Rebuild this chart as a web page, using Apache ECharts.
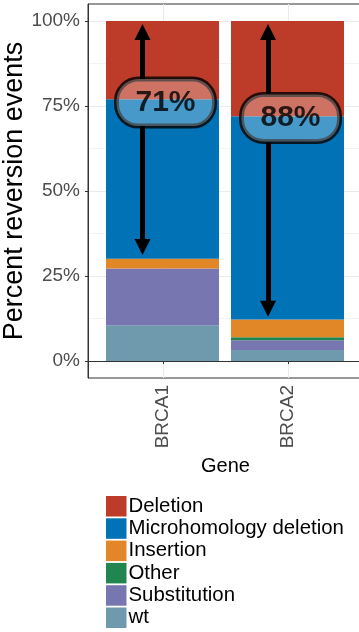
<!DOCTYPE html>
<html><head><meta charset="utf-8">
<script src="https://cdn.jsdelivr.net/npm/echarts@6/dist/echarts.min.js"></script>
<style>html,body{margin:0;padding:0;background:#fff}#c{width:359px;height:632px}</style>
</head><body><div id="c"></div>
<script>
// ---- data ----
const categories = ['BRCA1', 'BRCA2'];
const categoryPos = [1, 2];
const seriesNames = ['wt', 'Substitution', 'Other', 'Insertion', 'Microhomology deletion', 'Deletion'];
const wt = [10.5, 3.2];
const substitution = [16.7, 2.9];
const other = [0, 0.9];
const insertion = [2.9, 5.2];
const microhomology = [46.9, 59.8];
const deletion = [23.0, 28.0];
const seriesValues = [wt, substitution, other, insertion, microhomology, deletion];
const legendOrder = ['Deletion', 'Microhomology deletion', 'Insertion', 'Other', 'Substitution', 'wt'];
const yTicks = [0, 25, 50, 75, 100];
const yMinorTicks = [12.5, 37.5, 62.5, 87.5];
const annotText = ['71%', '88%'];
const annotX = [1.02, 2.02];
const annotY = [76.0, 71.5];
const annotHalf = [6.9, 7.2];
const arrowX = [0.836, 1.84];
const arrowTop = [99.1, 99.1];
const arrowBottom = [31.2, 13.0];

const colors = {
  'Deletion': '#BC3C29', 'Microhomology deletion': '#0072B5', 'Insertion': '#E18727',
  'Other': '#20854E', 'Substitution': '#7876B1', 'wt': '#6F99AD'
};
const FONT = '"Liberation Sans", Arial, Helvetica, sans-serif';
const PX_PER_PCT = 3.4;
const HEAD = 16;
const headPct = (HEAD / 2) / PX_PER_PCT;

const chart = echarts.init(document.getElementById('c'), null, {renderer: 'canvas'});

const barSeries = seriesNames.map((name, i) => ({
  name, type: 'bar', stack: 'total', barWidth: 113,
  xAxisIndex: 1, yAxisIndex: 2,
  itemStyle: {color: colors[name]},
  emphasis: {disabled: true},
  data: seriesValues[i],
  z: 2
}));

const arrowData = [];
categoryPos.forEach((_, j) => {
  arrowData.push({coords: [[arrowX[j], annotY[j] + annotHalf[j]], [arrowX[j], arrowTop[j] - headPct]]});
  arrowData.push({coords: [[arrowX[j], annotY[j] - annotHalf[j]], [arrowX[j], arrowBottom[j] + headPct]]});
});

const option = {
  animation: false,
  textStyle: {fontFamily: FONT},
  grid: [
    {left: 88, top: 4, width: 275, height: 374, show: true, borderColor: '#333333', borderWidth: 1,
     backgroundColor: '#fff', outerBoundsMode: 'none', containLabel: false},
    {left: 100, top: 21, width: 250, height: 340, show: false, outerBoundsMode: 'none', containLabel: false}
  ],
  xAxis: [{
    gridIndex: 0, type: 'value', min: 0.4, max: 2.6,
    name: 'Gene', nameLocation: 'middle', nameGap: 76,
    nameTextStyle: {fontSize: 20, color: '#000', fontFamily: FONT},
    axisLine: {show: true, lineStyle: {color: '#333333'}},
    axisTick: {show: true, length: 3, lineStyle: {color: '#333333'}, customValues: categoryPos},
    axisLabel: {customValues: categoryPos, rotate: 90, margin: 7, fontSize: 19, color: '#4D4D4D', fontFamily: FONT,
      formatter: v => categories[Math.round(v) - 1]},
    splitLine: {show: true, lineStyle: {color: '#EBEBEB', width: 1}}
  }, {
    gridIndex: 1, type: 'category', data: categories, show: false,
    axisLine: {show: false}, axisTick: {show: false}, axisLabel: {show: false}, splitLine: {show: false}
  }],
  yAxis: [{
    gridIndex: 0, type: 'value', min: -5, max: 105,
    name: 'Percent reversion events', nameLocation: 'middle', nameGap: 60, nameRotate: 90,
    nameMoveOverlap: false,
    nameTextStyle: {fontSize: 27, color: '#000', fontFamily: FONT},
    axisLine: {show: true, lineStyle: {color: '#333333'}},
    axisTick: {show: true, length: 3, lineStyle: {color: '#333333'}, customValues: yTicks},
    axisLabel: {customValues: yTicks, margin: 8, fontSize: 19, color: '#4D4D4D', fontFamily: FONT, formatter: v => v + '%'},
    splitLine: {show: true, lineStyle: {color: '#EBEBEB', width: 1}}
  }, {
    gridIndex: 0, type: 'value', min: -5, max: 105, position: 'left',
    axisLine: {show: false}, axisLabel: {show: false},
    axisTick: {show: false, customValues: yMinorTicks},
    splitLine: {show: true, lineStyle: {color: '#EBEBEB', width: 0.6}}
  }, {
    gridIndex: 1, type: 'value', min: 0, max: 100, show: false,
    axisLine: {show: false}, axisTick: {show: false}, axisLabel: {show: false}, splitLine: {show: false}
  }],
  legend: {
    orient: 'vertical', left: 106, top: 496, padding: 0,
    data: legendOrder, icon: 'rect', itemWidth: 20.5, itemHeight: 20.5, itemGap: 1.8,
    textStyle: {fontSize: 20.4, color: '#000', fontFamily: FONT, padding: [0, 0, 0, -3]},
    selectedMode: false
  },
  series: barSeries.concat([
    {
      type: 'lines', coordinateSystem: 'cartesian2d', xAxisIndex: 0, yAxisIndex: 0, z: 5,
      symbol: ['none', 'triangle'], symbolSize: HEAD,
      lineStyle: {color: '#000', width: 5, opacity: 1},
      emphasis: {disabled: true},
      data: arrowData
    },
    {
      type: 'scatter', xAxisIndex: 0, yAxisIndex: 0, z: 6, symbolSize: 0,
      itemStyle: {color: 'rgba(0,0,0,0)'},
      emphasis: {disabled: true},
      data: categoryPos.map((_, j) => [annotX[j], annotY[j]]),
      label: {
        show: true, position: 'inside',
        formatter: p => annotText[p.dataIndex],
        fontSize: 30, fontWeight: 'bold', color: '#000', fontFamily: FONT, lineHeight: 31,
        textBorderWidth: 0, textBorderColor: 'transparent', textShadowBlur: 0,
        backgroundColor: 'rgba(255,255,255,0.35)', borderColor: '#000', borderWidth: 2.5,
        borderRadius: 22, padding: [8, 19]
      }
    }
  ])
};
chart.setOption(option);
</script></body></html>
